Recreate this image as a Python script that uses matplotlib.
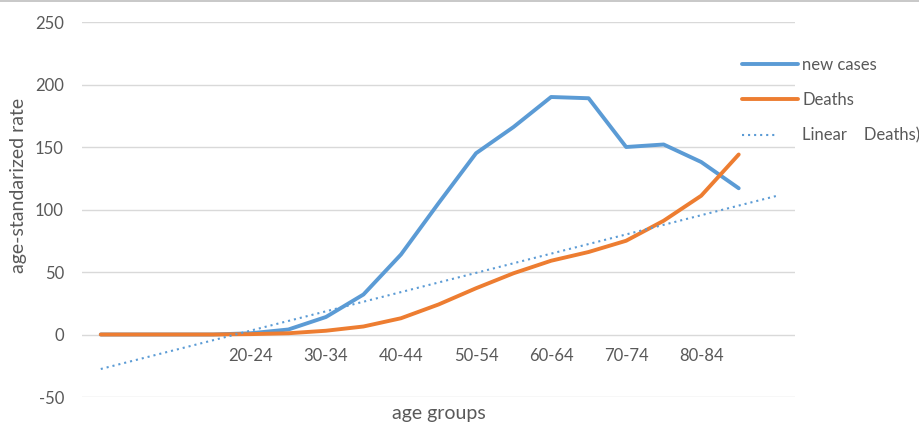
import matplotlib
matplotlib.use("Agg")
import matplotlib.pyplot as plt
from matplotlib.lines import Line2D
import numpy as np

# age groups on the category axis
age_groups = ["0-4", "5-9", "10-14", "15-19", "20-24", "25-29", "30-34", "35-39",
              "40-44", "45-49", "50-54", "55-59", "60-64", "65-69", "70-74",
              "75-79", "80-84", "85+"]
new_cases = [0, 0, 0, 0, 1, 4, 14, 32, 64, 105, 145, 166, 190, 189, 150, 152, 138, 117]
deaths = [0, 0, 0, 0, 0.3, 1, 3, 6.4, 13, 24, 37, 49, 59, 66, 75, 91, 111, 144]
shown_labels = ["20-24", "30-34", "40-44", "50-54", "60-64", "70-74", "80-84"]

blue = "#5B9BD5"
orange = "#ED7D31"
grey_text = "#595959"

plt.rcParams["font.family"] = ["Lato", "DejaVu Sans"]
plt.rcParams["axes.unicode_minus"] = False

fig = plt.figure(figsize=(9.19, 4.23), dpi=100)
ax = fig.add_axes([82 / 919, 1 - 397 / 423, (795 - 82) / 919, (397 - 22) / 423])

x = np.arange(len(age_groups))
ax.plot(x, new_cases, color=blue, lw=2.8, solid_capstyle="round",
        solid_joinstyle="round", label="new cases", zorder=3)
ax.plot(x, deaths, color=orange, lw=2.8, solid_capstyle="round",
        solid_joinstyle="round", label="Deaths", zorder=4)

# linear trendline of deaths, forecast one period forward
k, b = np.polyfit(x + 1, deaths, 1)
xt = np.arange(len(age_groups) + 1)
ax.plot(xt, k * (xt + 1) + b, color=blue, lw=1.5, linestyle=(0, (1, 1.9)),
        label="Linear    Deaths)", zorder=5)

ax.set_xlim(-0.5, len(age_groups) + 0.5)
ax.set_ylim(-50, 250)
ax.set_yticks(np.arange(-50, 251, 50))
ax.yaxis.grid(True, color="#D9D9D9", lw=1)
ax.set_axisbelow(True)
for s in ax.spines.values():
    s.set_visible(False)

ax.spines["bottom"].set_position(("data", 0))
ax.set_xticks([age_groups.index(g) for g in shown_labels])
ax.set_xticklabels(shown_labels)
ax.tick_params(axis="x", length=0, pad=10, labelsize=12, labelcolor=grey_text)
ax.tick_params(axis="y", length=0, pad=13, labelsize=12, labelcolor=grey_text)

ax.set_ylabel("age-standarized rate", fontsize=14, color=grey_text)
ax.yaxis.label.set_va("center")
ax.yaxis.set_label_coords(-0.0888, 0.563)
ax.set_xlabel("age groups", fontsize=14, color=grey_text)
ax.xaxis.label.set_va("center")
ax.xaxis.set_label_coords(0.5, -0.045)

leg = ax.legend(loc="upper left", bbox_to_anchor=(742 / 919, 0.866),
                bbox_transform=fig.transFigure, frameon=False, fontsize=12,
                borderaxespad=0, borderpad=0, handlelength=3.35,
                handletextpad=0.26, labelspacing=1.17, labelcolor=grey_text)

# trendline entry gets a shorter dotted key
trend_key = leg.legend_handles[2]
xd = np.asarray(trend_key.get_xdata(), dtype=float)
trend_key.set_xdata(np.linspace(xd[0], xd[0] + (xd[-1] - xd[0]) * 0.64, len(xd)))

# thin border along the top of the chart
fig.add_artist(Line2D([0, 1], [0.998, 0.998], color="#BFBFBF", lw=1.2,
                      transform=fig.transFigure))

fig.savefig("out.png", dpi=100)
